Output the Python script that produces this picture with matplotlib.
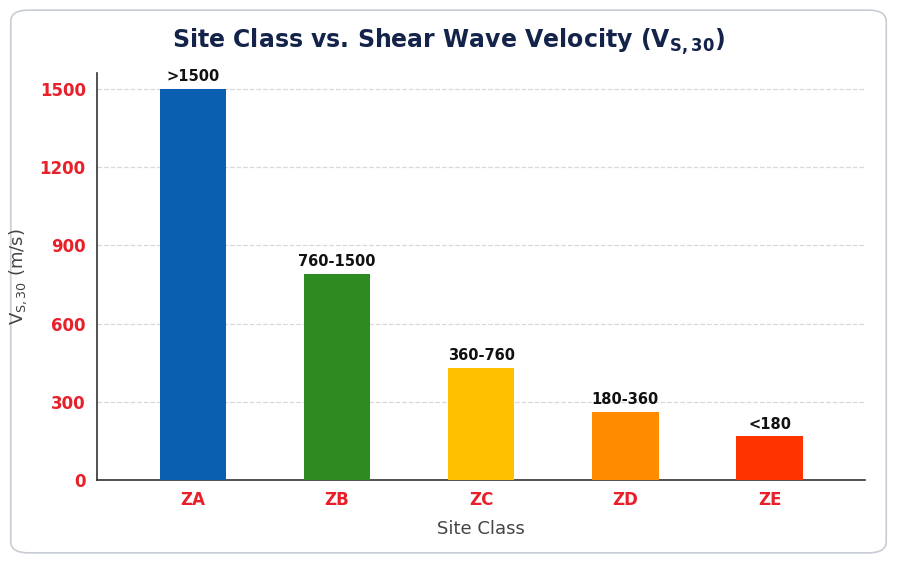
import matplotlib
matplotlib.use("Agg")
import matplotlib.pyplot as plt
from matplotlib.patches import FancyBboxPatch

classes = ["ZA", "ZB", "ZC", "ZD", "ZE"]
velocities = [1500, 790, 430, 262, 168]
range_labels = [">1500", "760-1500", "360-760", "180-360", "<180"]
colors = ["#0a5fb0", "#2e8b22", "#ffc000", "#ff8c00", "#ff3300"]
yticks = [0, 300, 600, 900, 1200, 1500]

fig = plt.figure(figsize=(8.97, 5.63), dpi=100)
fig.patches.append(FancyBboxPatch((0.012, 0.018), 0.976, 0.964, boxstyle="round,pad=0,rounding_size=0.02",
                                  transform=fig.transFigure, facecolor="white", edgecolor="#c8ccd4",
                                  linewidth=1.2, zorder=-10))
ax = fig.add_axes([0.108, 0.147, 0.856, 0.723])
ax.set_facecolor("none")
ax.set_zorder(5)
x = range(len(classes))
ax.bar(x, velocities, width=0.46, color=colors, zorder=3)
for i, (v, lab) in enumerate(zip(velocities, range_labels)):
    ax.text(i, v + 18, lab, ha="center", va="bottom", fontsize=10.5, fontweight="bold", color="#111111")

ax.set_xlim(-0.665, 4.66)
ax.set_ylim(0, 1560)
ax.set_yticks(yticks)
ax.set_xticks(list(x))
ax.set_xticklabels(classes)
for t in ax.get_xticklabels() + ax.get_yticklabels():
    t.set_color("#e8202a")
    t.set_fontweight("bold")
    t.set_fontsize(12)
ax.tick_params(axis="both", length=0, pad=8)
ax.yaxis.grid(True, linestyle="--", color="#d8d8d8", linewidth=0.9, zorder=0)
for s in ["top", "right"]:
    ax.spines[s].set_visible(False)
for s in ["left", "bottom"]:
    ax.spines[s].set_color("#333333")
    ax.spines[s].set_linewidth(1.2)

ax.set_xlabel("Site Class", fontsize=13, color="#444444", labelpad=8)
ax.set_ylabel(r"V$_{\mathrm{S,30}}$ (m/s)", fontsize=13, color="#444444", labelpad=8)
fig.text(0.5, 0.925, r"Site Class vs. Shear Wave Velocity (V$_{\mathbf{S,30}}$)", ha="center", va="center",
         fontsize=17, fontweight="bold", color="#14234a")

fig.savefig("out.png", dpi=100)
